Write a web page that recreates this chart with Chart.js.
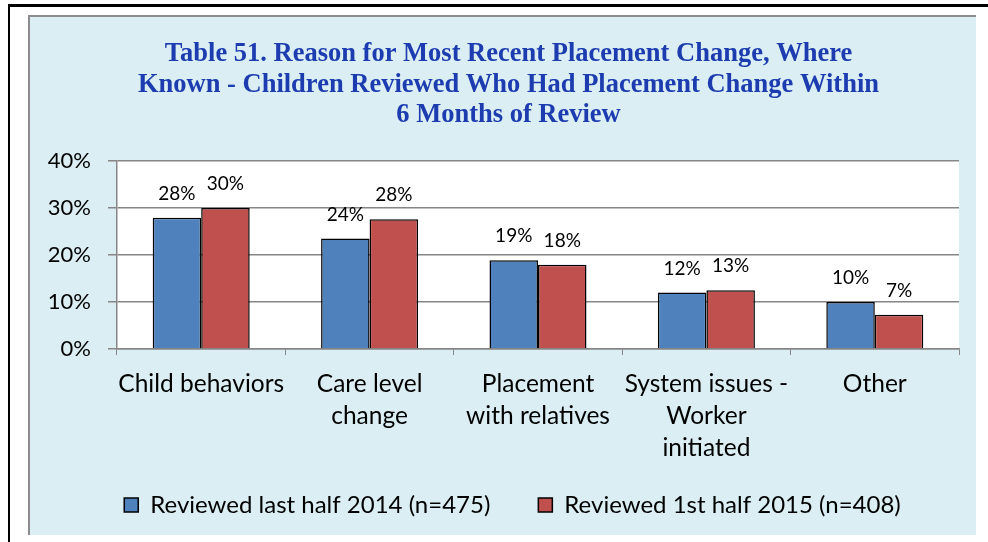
<!DOCTYPE html>
<html>
<head>
<meta charset="utf-8">
<script src="https://cdn.jsdelivr.net/npm/chart.js@4/dist/chart.umd.min.js"></script>
<style>
  body { margin: 0; background: #ffffff; width: 988px; height: 542px; overflow: hidden; position: relative; }
  #moldura { position: absolute; left: 8px; top: 4px; right: 0; bottom: 0; border-top: 3px solid #000; border-left: 2px solid #000; }
  #caixa { position: absolute; left: 28px; top: 15px; width: 948px; height: 520px; box-sizing: border-box;
           background: #daeef3; border-top: 2px solid #8c8c8c; border-left: 2px solid #8c8c8c; }
  #area { position: relative; width: 946px; height: 518px; }
</style>
</head>
<body>
<div id="moldura"></div>
<div id="caixa"><div id="area"><canvas id="graficoBarra"></canvas></div></div>
<script>
const categorias = [
  ["Child behaviors"],
  ["Care level", "change"],
  ["Placement", "with relatives"],
  ["System issues -", "Worker", "initiated"],
  ["Other"]
];
const serie2014 = [27.9, 23.5, 18.9, 12.0, 10.0];
const serie2015 = [30.0, 27.6, 17.9, 12.5, 7.3];
const nomesSeries = ["Reviewed last half 2014 (n=475)", "Reviewed 1st half 2015 (n=408)"];
const ticksY = [0, 10, 20, 30, 40];

const titulo = [
  "Table 51. Reason for Most Recent Placement Change, Where",
  "Known - Children Reviewed Who Had Placement Change Within",
  "6 Months of Review"
];

const fonte = "Lato";

// fundo branco da área de plotagem
const fundoPlotagem = {
  id: "fundoPlotagem",
  beforeDraw(chart) {
    const { ctx, chartArea } = chart;
    ctx.save();
    ctx.fillStyle = "#ffffff";
    ctx.fillRect(chartArea.left, chartArea.top, chartArea.right - chartArea.left, chartArea.bottom - chartArea.top);
    ctx.restore();
  }
};

// rótulos de percentual acima das barras
const rotulosValor = {
  id: "rotulosValor",
  afterDatasetsDraw(chart) {
    const ctx = chart.ctx;
    ctx.save();
    ctx.font = "19px " + fonte;
    ctx.fillStyle = "#000000";
    ctx.textAlign = "center";
    ctx.textBaseline = "middle";
    chart.data.datasets.forEach((ds, i) => {
      chart.getDatasetMeta(i).data.forEach((barra, j) => {
        ctx.fillText(Math.round(ds.data[j]) + "%", barra.x, barra.y - 24);
      });
    });
    ctx.restore();
  }
};

// legenda mais alta (encostada nos rótulos do eixo x) e título/legenda um pouco à direita
const ajusteLayout = {
  id: "ajusteLayout",
  afterLayout(chart) {
    const lg = chart.legend;
    lg.left += 11; lg.right += 11;
    lg.top -= 22; lg.bottom -= 22;
    const tt = chart.titleBlock;
    tt.left += 7; tt.right += 7;
  }
};

function gerarGraficoBarra() {
  const ctx = document.getElementById("graficoBarra").getContext("2d");
  new Chart(ctx, {
    type: "bar",
    data: {
      labels: categorias,
      datasets: [
        { label: nomesSeries[0], data: serie2014, backgroundColor: "#4f81bd", borderColor: "#000000", borderWidth: 1.5 },
        { label: nomesSeries[1], data: serie2015, backgroundColor: "#c0504d", borderColor: "#000000", borderWidth: 1.5 }
      ]
    },
    options: {
      responsive: true,
      maintainAspectRatio: false,
      animation: false,
      datasets: { bar: { barPercentage: 1, categoryPercentage: 0.576 } },
      layout: { padding: { left: 14, right: 17, top: 0, bottom: -14 } },
      plugins: {
        title: {
          display: true,
          text: titulo,
          color: "#1c3cb0",
          font: { size: 26.5, family: "Liberation Serif", weight: "bold", lineHeight: 1.15 },
          padding: { top: 22, bottom: 30.5 }
        },
        legend: {
          position: "bottom",
          labels: {
            color: "#000000",
            font: { size: 24, family: fonte },
            boxWidth: 14,
            boxHeight: 14,
            padding: 48
          }
        },
        tooltip: { enabled: false }
      },
      scales: {
        x: {
          grid: { drawOnChartArea: false, drawTicks: true, tickLength: 6, color: "#868686" },
          border: { color: "#868686", width: 1.5 },
          ticks: { color: "#000000", padding: 13, maxRotation: 0, autoSkip: false, font: { size: 24.5, family: fonte, lineHeight: 1.306 } },
          afterFit(scale) { scale.height = 118; }
        },
        y: {
          min: 0,
          max: 40,
          afterBuildTicks(scale) { scale.ticks = ticksY.map(v => ({ value: v })); },
          grid: { color: "#868686", lineWidth: 1.5, tickLength: 9 },
          border: { color: "#868686", width: 1.5 },
          ticks: { color: "#000000", padding: 17, font: { size: 22, family: fonte }, callback: v => v + "%" },
          afterFit(scale) { scale.width = 73; }
        }
      }
    },
    plugins: [fundoPlotagem, rotulosValor, ajusteLayout]
  });
}

gerarGraficoBarra();
</script>
</body>
</html>
